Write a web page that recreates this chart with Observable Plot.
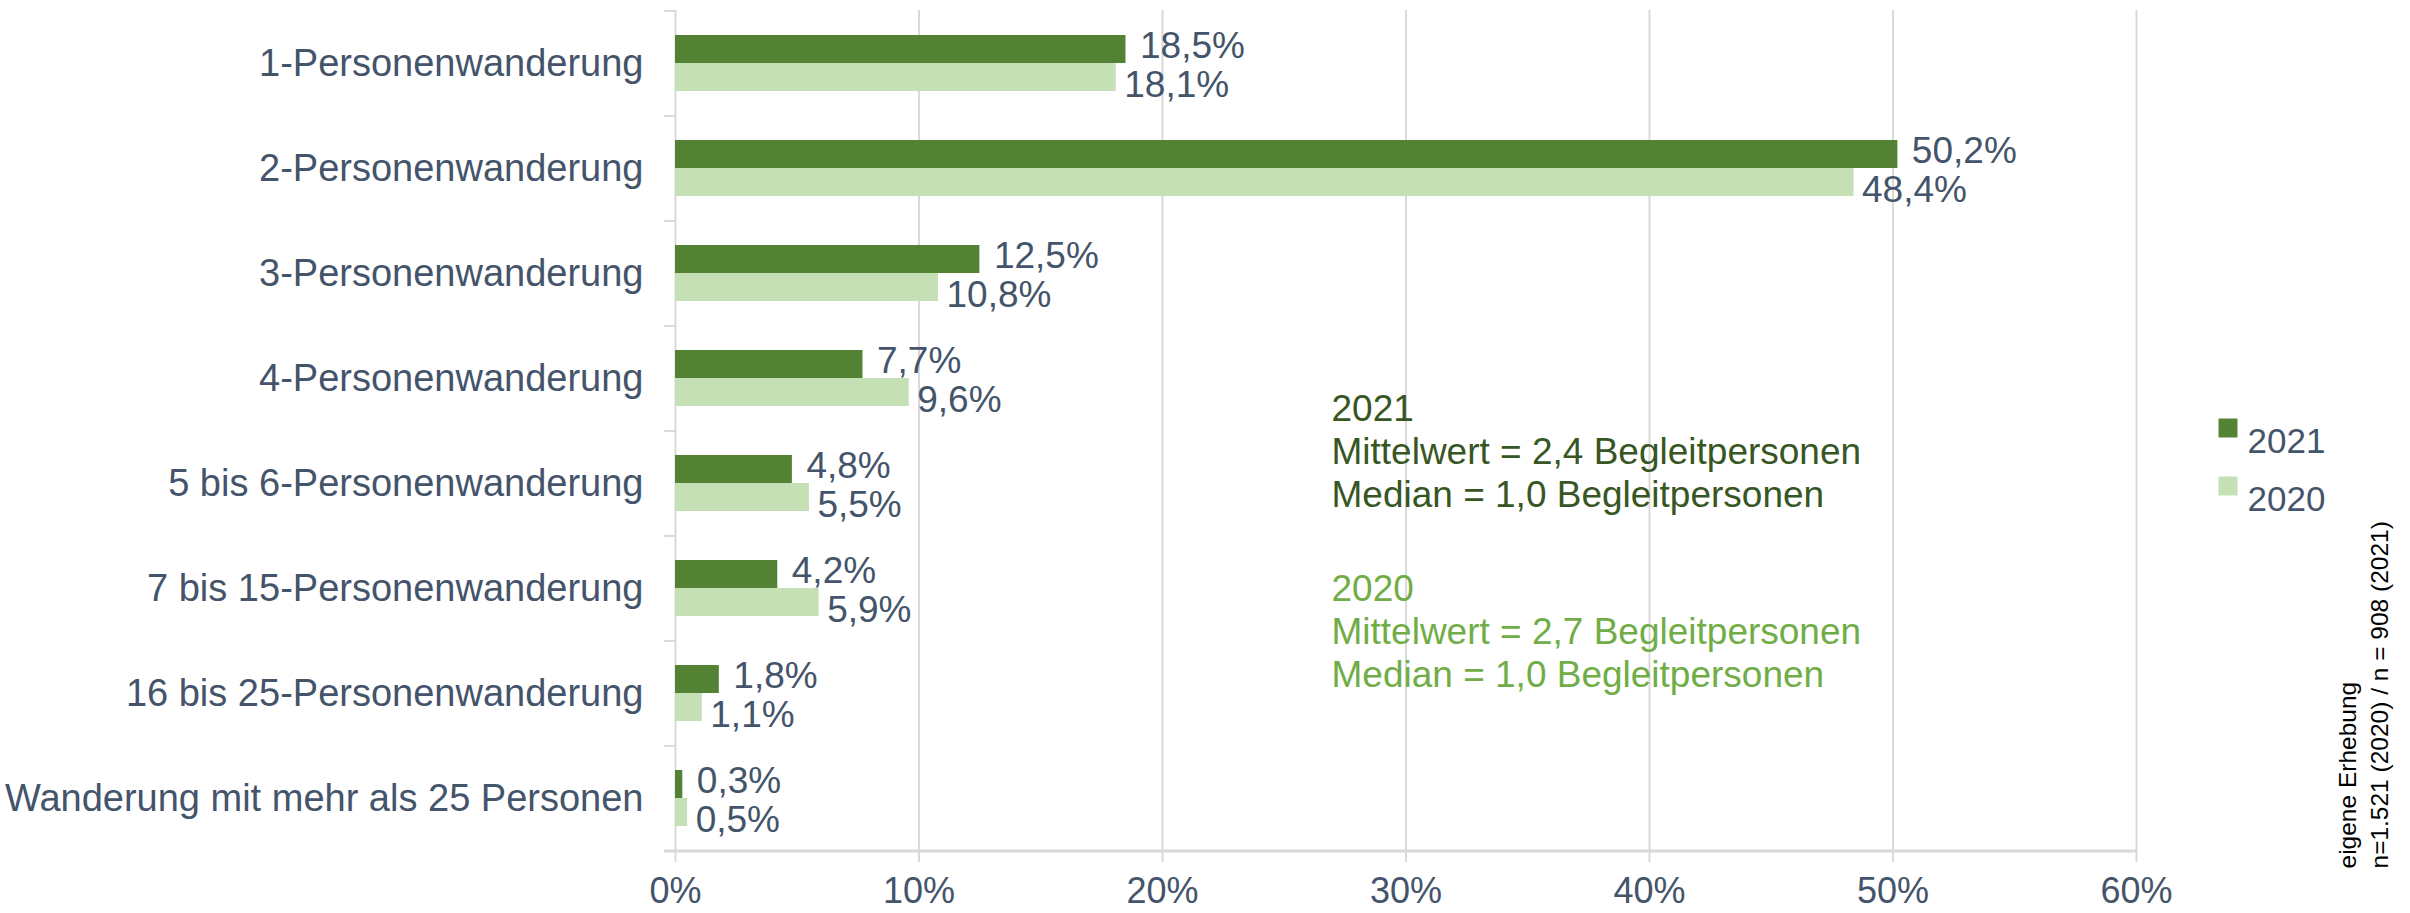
<!DOCTYPE html>
<html>
<head>
<meta charset="utf-8">
<script src="https://cdn.jsdelivr.net/npm/d3@7"></script>
<script src="https://cdn.jsdelivr.net/npm/@observablehq/plot@0.6"></script>
<style>
  html, body { margin: 0; padding: 0; background: #ffffff; }
  #chart svg { display: block; }
</style>
</head>
<body>
<div id="chart"></div>
<script>
// ---- Data ----
const categories = [
  "1-Personenwanderung",
  "2-Personenwanderung",
  "3-Personenwanderung",
  "4-Personenwanderung",
  "5 bis 6-Personenwanderung",
  "7 bis 15-Personenwanderung",
  "16 bis 25-Personenwanderung",
  "Wanderung mit mehr als 25 Personen"
];
const values2021 = [18.5, 50.2, 12.5, 7.7, 4.8, 4.2, 1.8, 0.3];
const values2020 = [18.1, 48.4, 10.8, 9.6, 5.5, 5.9, 1.1, 0.5];
const years = ["2021", "2020"];
const xTicks = [0, 10, 20, 30, 40, 50, 60];
const note2021 = ["2021", "Mittelwert = 2,4 Begleitpersonen", "Median = 1,0 Begleitpersonen"];
const note2020 = ["2020", "Mittelwert = 2,7 Begleitpersonen", "Median = 1,0 Begleitpersonen"];
const captionLines = ["eigene Erhebung", "n=1.521 (2020) / n = 908 (2021)"];

// ---- Styles ----
const colors = {"2021": "#548235", "2020": "#C5E0B4"};
const noteColors = {"2021": "#375623", "2020": "#70AD47"};
const textColor = "#44546A";
const gridColor = "#D9D9D9";

const W = 2410, H = 913;
const mL = 675, mR = 274, mT = 10, mB = 62;
const step = (H - mT - mB) / categories.length;
const pxPerUnit = (W - mL - mR) / (xTicks[xTicks.length - 1] - xTicks[0]);
const tickLen = 11 / pxPerUnit;
const padInner = 1 - 56 / step;
const half = step * (1 - padInner) / 2;

const rows2021 = categories.map((c, i) => ({cat: c, value: values2021[i]}));
const rows2020 = categories.map((c, i) => ({cat: c, value: values2020[i]}));
const fmt = d => d.toFixed(1).replace(".", ",") + "%";

const chart = Plot.plot({
  width: W,
  height: H,
  marginLeft: mL,
  marginRight: mR,
  marginTop: mT,
  marginBottom: mB,
  style: {fontFamily: "Arial, 'Liberation Sans', sans-serif", fontSize: "37px", color: textColor, background: "#ffffff"},
  x: {domain: [xTicks[0], xTicks[xTicks.length - 1]]},
  y: {domain: categories, paddingInner: padInner, paddingOuter: padInner / 2},
  marks: [
    Plot.gridX(xTicks, {stroke: gridColor, strokeOpacity: 1, strokeWidth: 2}),
    // category boundary ticks
    Plot.ruleY(categories, {y: d => d, x1: -tickLen, x2: 0, dy: -step / 2, stroke: gridColor, strokeWidth: 2}),
    Plot.ruleY([categories[categories.length - 1]], {y: d => d, x1: -tickLen, x2: xTicks[xTicks.length - 1], dy: step / 2, stroke: gridColor, strokeWidth: 3}),
    Plot.barX(rows2021, {x: "value", y: "cat", fill: colors["2021"], insetBottom: half}),
    Plot.barX(rows2020, {x: "value", y: "cat", fill: colors["2020"], insetTop: half}),
    Plot.text(rows2021, {x: "value", y: "cat", text: d => fmt(d.value), textAnchor: "start", dx: 14, dy: -17, fill: textColor, fontSize: 37}),
    Plot.text(rows2020, {x: "value", y: "cat", text: d => fmt(d.value), textAnchor: "start", dx: 8, dy: 22, fill: textColor, fontSize: 37}),
    Plot.axisX(xTicks, {tickFormat: d => d + "%", tickSize: 11, tickPadding: 15, stroke: gridColor, strokeWidth: 2, fill: textColor, fontSize: 36, label: null}),
    Plot.axisY({tickSize: 0, tickPadding: 32, fill: textColor, fontSize: 38, label: null, textOverflow: null}),
    // annotations
    Plot.text([note2021.join("\n")], {frameAnchor: "top-left", dx: 656, dy: 380, textAnchor: "start", lineAnchor: "top", lineHeight: 1.165, fill: noteColors["2021"], fontSize: 37}),
    Plot.text([note2020.join("\n")], {frameAnchor: "top-left", dx: 656, dy: 560, textAnchor: "start", lineAnchor: "top", lineHeight: 1.165, fill: noteColors["2020"], fontSize: 37}),
    // legend
    ...years.map((yr, i) => Plot.dot([yr], {frameAnchor: "top-right", dx: 91.5, dy: 417.5 + i * 58, symbol: "square", r: 19 / Math.sqrt(Math.PI), fill: colors[yr], stroke: null})),
    ...years.map((yr, i) => Plot.text([yr], {frameAnchor: "top-right", dx: 111, dy: 417.5 + i * 58, text: d => d, textAnchor: "start", fill: textColor, fontSize: 35})),
    // source caption
    Plot.text([captionLines.join("\n")], {frameAnchor: "bottom-right", dx: 197, dy: 17, rotate: -90, textAnchor: "start", lineAnchor: "top", lineHeight: 1.3, fill: "#000000", fontSize: 24.5})
  ]
});
document.getElementById("chart").appendChild(chart);
</script>
</body>
</html>
